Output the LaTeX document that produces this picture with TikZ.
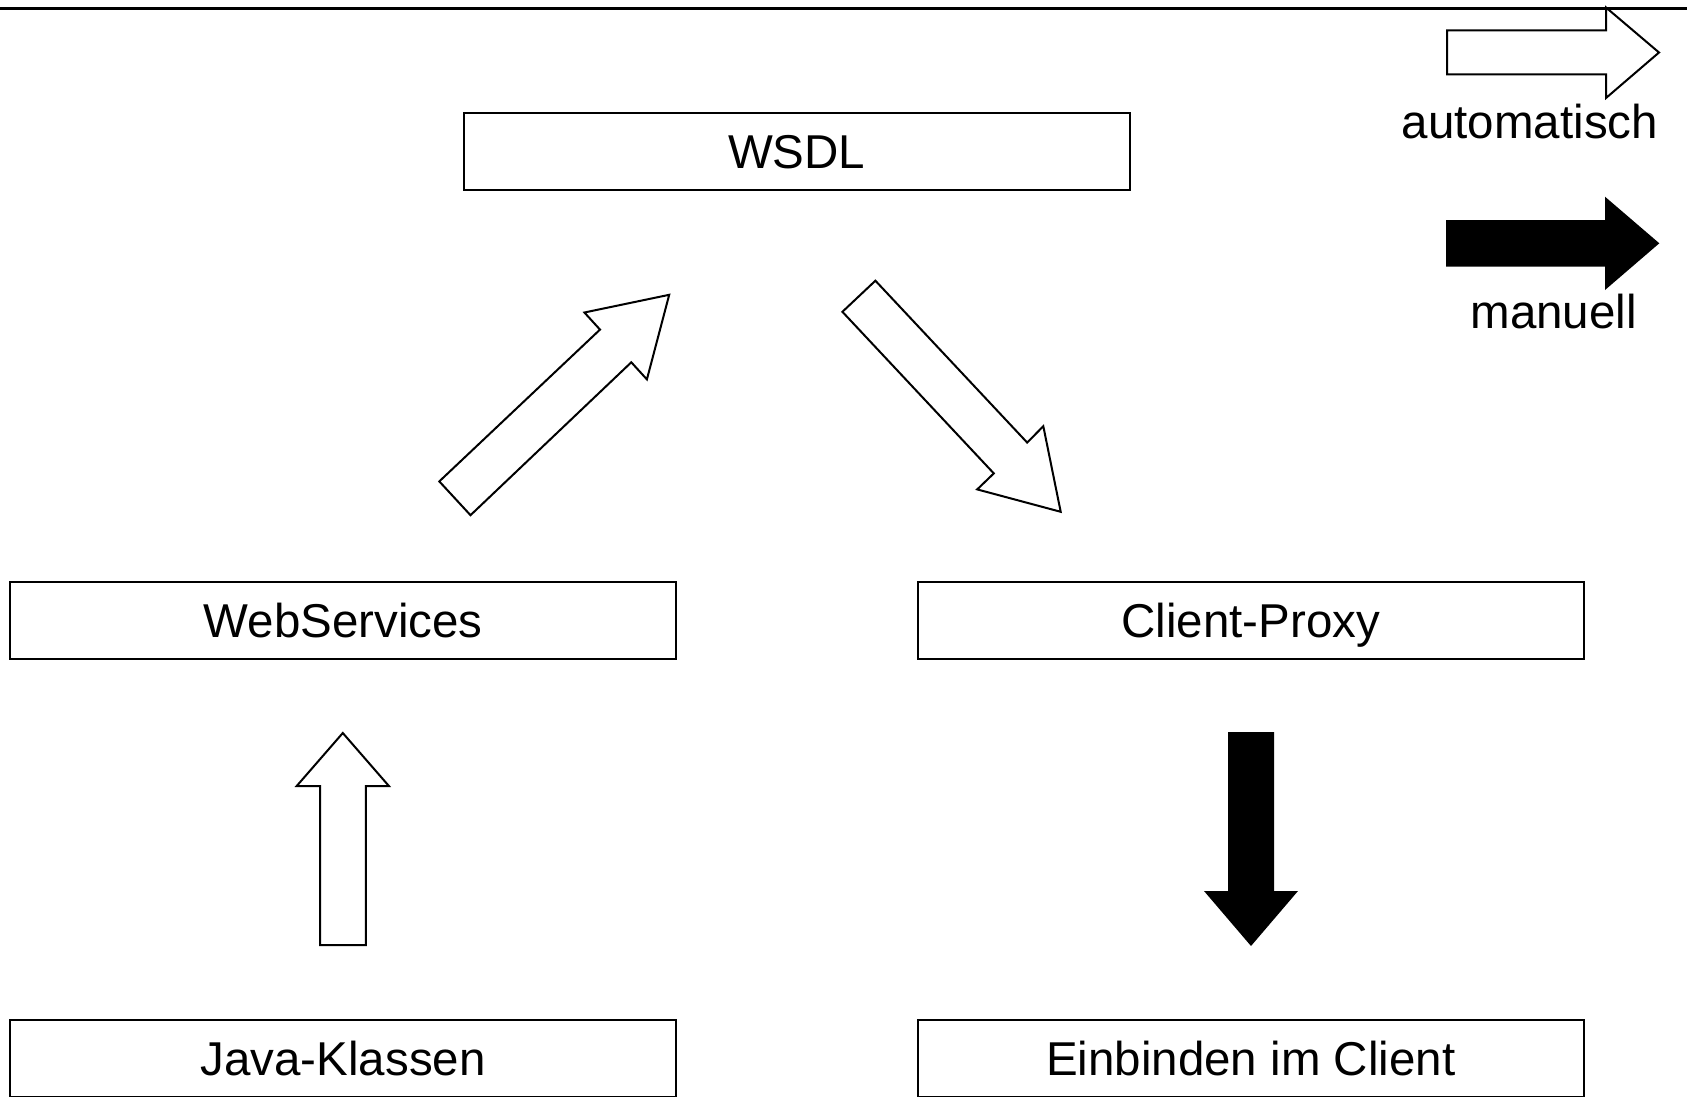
\documentclass[tikz,border=0pt]{standalone}
\usepackage{fontspec}
\setmainfont{Liberation Sans}
\newcommand\labelfont{\fontsize{47.5}{57}\selectfont}
\begin{document}
\begin{tikzpicture}[x=1pt,y=-1pt,
  box/.style={draw, line width=2pt, minimum width=666pt, minimum height=77pt,
    inner sep=0pt, text height=34pt, text depth=0pt, font=\labelfont},
  openarrow/.style={draw, line width=2pt, fill=white, line join=miter},
  solidarrow/.style={fill=black},
  legendtext/.style={anchor=base, inner sep=0pt, font=\labelfont},
  rule/.style={line width=2.5pt}]
\useasboundingbox (0,0) rectangle (1687,1097);

% process boxes
\node[box] (wsdl)  at (796.7,151.2)  {WSDL};
\node[box] (ws)    at (343.2,620.3)  {WebServices};
\node[box] (proxy) at (1250.7,620.3) {Client-Proxy};
\node[box] (java)  at (343.2,1058)   {Java-Klassen};
\node[box] (einb)  at (1250.7,1058)  {Einbinden im Client};

% legend: automatic step (open arrow)
\draw[openarrow] (1447,30.5) -- (1606,30.5) -- (1606,7.5) -- (1659,52.5)
  -- (1606,98) -- (1606,74.5) -- (1447,74.5) -- cycle;
\node[legendtext] (auto) at (1530,139) {automatisch};

% legend: manual step (solid arrow)
\fill[solidarrow] (1446,220) -- (1605,220) -- (1605,196.7) -- (1659.3,243.3)
  -- (1605,290) -- (1605,266.7) -- (1446,266.7) -- cycle;
\node[legendtext] (manu) at (1553.6,328) {manuell};

% top rule
\coordinate (ruleL) at (0,8.5);
\coordinate (ruleR) at (1687,8.5);
\draw[rule] (ruleL) -- (ruleR);

% Java-Klassen -> WebServices (automatic)
\draw[openarrow] (320,945) -- (320,786) -- (296.7,786) -- (342.8,733)
  -- (388.9,786) -- (365.8,786) -- (365.8,945) -- cycle;

% WebServices -> WSDL (automatic)
\draw[openarrow] (439.3,481.4) -- (600,329.6) -- (584.4,312.5) -- (669.2,294.8)
  -- (646.9,379.4) -- (631.3,362.3) -- (470.5,515.2) -- cycle;

% WSDL -> Client-Proxy (automatic)
\draw[openarrow] (875.4,280.7) -- (1027.2,442.6) -- (1043.3,426.2) -- (1060.7,511.8)
  -- (977.2,489.4) -- (993.8,473.4) -- (842.4,311.8) -- cycle;

% Client-Proxy -> Einbinden im Client (manual)
\fill[solidarrow] (1228,732) -- (1274,732) -- (1274,891) -- (1298,891)
  -- (1251,946) -- (1204,891) -- (1228,891) -- cycle;
\end{tikzpicture}
\end{document}
